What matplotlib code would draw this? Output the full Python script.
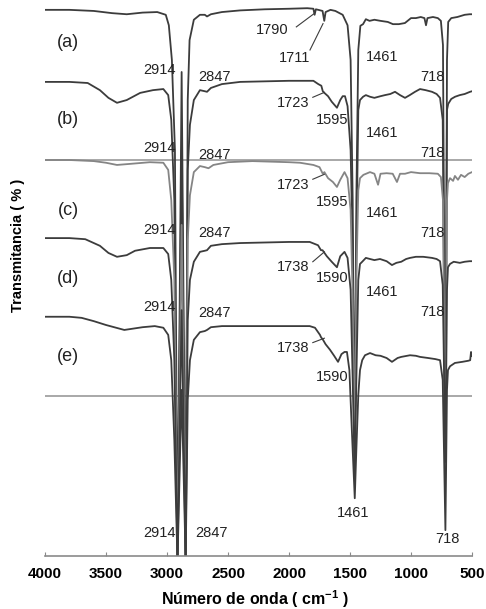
import numpy as np
import matplotlib.pyplot as plt

plt.rcParams['font.family'] = ['Liberation Sans', 'DejaVu Sans']
plt.rcParams['mathtext.fontset'] = 'custom'
plt.rcParams['mathtext.rm'] = 'Liberation Sans'
plt.rcParams['mathtext.bf'] = 'Liberation Sans:bold'

# FTIR spectra, stacked (transmittance with offsets, arbitrary %)
wn_a = [4000, 3800, 3600, 3450, 3330, 3200, 3080, 3010, 2985, 2960, 2935, 2914, 2880, 2847,
        2830, 2815, 2780, 2730, 2690, 2672, 2640, 2550, 2400, 2200, 2000, 1850, 1800, 1790,
        1780, 1760, 1725, 1711, 1700, 1660, 1620, 1560, 1520, 1495, 1478, 1461, 1448, 1432,
        1415, 1393, 1370, 1340, 1300, 1250, 1190, 1148, 1100, 1050, 1000, 960, 920, 890, 877,
        865, 820, 780, 755, 738, 718, 705, 695, 670, 620, 560, 520, 500]
t_a = [99.3, 99.3, 99.1, 98.7, 98.5, 98.8, 98.9, 98.4, 96.5, 90.2, 73.8, -1, 88.0, -1,
       82.9, 93.8, 97.5, 98.4, 98.4, 98.1, 98.5, 98.9, 99.2, 99.4, 99.5, 99.6, 99.5, 98.4,
       99.4, 99.3, 99.1, 97.3, 98.9, 99.3, 99.1, 98.4, 96.5, 90.2, 64.7, 15.6, 64.7, 92.0,
       96.4, 96.7, 97.6, 97.3, 97.5, 97.3, 97.1, 96.7, 96.7, 96.9, 97.8, 97.8, 98.0, 97.8, 96.5,
       97.8, 98.0, 97.8, 97.3, 92.9, 16.0, 90.2, 97.1, 97.8, 98.0, 98.4, 98.5, 98.5]

wn_b = [4000, 3800, 3650, 3550, 3480, 3410, 3330, 3220, 3115, 3030, 2990, 2965, 2940, 2914,
        2880, 2847, 2830, 2812, 2780, 2730, 2690, 2672, 2640, 2550, 2400, 2000, 1800, 1760,
        1735, 1723, 1710, 1680, 1650, 1607, 1580, 1560, 1541, 1520, 1495, 1478, 1461, 1448,
        1432, 1418, 1393, 1370, 1336, 1300, 1250, 1213, 1170, 1131, 1090, 1049, 1010, 967,
        926, 880, 828, 790, 762, 740, 718, 705, 695, 670, 639, 600, 560, 516, 500]
t_b = [86.2, 86.2, 86.0, 84.7, 83.3, 82.4, 82.9, 84.2, 84.7, 84.9, 83.8, 79.3, 64.7, -1,
       73.8, -1, 70.2, 78.4, 82.9, 84.7, 84.5, 84.4, 85.1, 85.8, 86.2, 86.4, 86.4, 85.8,
       85.5, 84.5, 84.2, 83.6, 82.6, 81.5, 82.9, 83.6, 83.6, 81.8, 73.8, 55.6, 16.5, 55.6,
       81.1, 82.9, 83.5, 83.8, 83.5, 83.3, 83.6, 83.8, 84.0, 84.4, 83.8, 83.3, 83.8, 84.4,
       84.9, 84.7, 84.4, 84.0, 83.3, 79.3, 16.5, 81.1, 82.2, 83.1, 83.5, 83.8, 84.0, 84.4, 84.5]

wn_c = [4000, 3800, 3600, 3500, 3410, 3300, 3140, 3030, 2990, 2965, 2940, 2914, 2880, 2847,
        2830, 2812, 2780, 2730, 2690, 2660, 2620, 2500, 2300, 2000, 1910, 1800, 1750, 1723,
        1710, 1680, 1640, 1607, 1580, 1545, 1520, 1495, 1478, 1461, 1448, 1432, 1418, 1390,
        1336, 1300, 1270, 1250, 1200, 1150, 1115, 1090, 1049, 1000, 926, 850, 780, 755, 738,
        718, 705, 697, 680, 655, 640, 615, 590, 560, 530, 500]
t_c = [72.0, 72.0, 71.8, 71.5, 71.1, 71.3, 71.6, 71.5, 70.2, 64.7, 50.2, -1, 60.2, -1,
       57.5, 65.6, 69.8, 70.9, 70.7, 70.5, 71.1, 71.6, 71.8, 71.6, 71.5, 71.1, 70.7, 69.5,
       69.8, 68.7, 68.0, 67.1, 68.4, 69.8, 68.7, 62.9, 46.5, 17.5, 50.2, 66.5, 68.7, 69.3,
       69.8, 69.5, 67.5, 69.5, 69.6, 69.5, 68.0, 69.5, 69.5, 69.8, 69.6, 69.6, 69.5, 68.9, 64.7,
       15.6, 64.7, 67.8, 68.7, 68.2, 69.1, 68.4, 69.3, 68.9, 69.5, 69.8]

wn_d = [4000, 3800, 3670, 3550, 3480, 3410, 3330, 3262, 3140, 3030, 2990, 2965, 2940, 2914,
        2880, 2847, 2830, 2812, 2780, 2730, 2690, 2672, 2640, 2550, 2400, 2000, 1830, 1762,
        1738, 1725, 1690, 1650, 1607, 1580, 1545, 1520, 1495, 1478, 1461, 1448, 1432, 1418,
        1400, 1370, 1336, 1300, 1254, 1200, 1156, 1120, 1080, 1040, 1008, 960, 900, 828, 790,
        762, 740, 718, 705, 697, 680, 650, 600, 560, 520, 500]
t_d = [57.8, 57.8, 57.6, 56.4, 55.1, 54.4, 54.7, 55.5, 56.0, 56.0, 54.9, 50.2, 35.6, -1,
       44.7, -1, 42.9, 50.2, 53.5, 55.3, 55.5, 55.6, 56.4, 56.7, 56.9, 57.1, 57.1, 56.5,
       55.6, 55.6, 54.5, 53.5, 52.5, 54.5, 55.3, 54.2, 48.4, 32.0, 14.7, 32.0, 50.2, 53.1,
       53.5, 54.2, 54.0, 53.8, 54.0, 53.6, 52.9, 53.3, 53.5, 54.0, 54.2, 54.4, 54.4, 54.2, 54.0,
       53.6, 49.3, 17.1, 48.4, 52.5, 53.1, 53.5, 53.3, 53.5, 53.6, 53.6]

wn_e = [4000, 3800, 3700, 3600, 3500, 3350, 3200, 3100, 3030, 2990, 2965, 2940, 2914, 2880,
        2847, 2830, 2812, 2780, 2730, 2690, 2672, 2640, 2550, 2000, 1830, 1787, 1746, 1738,
        1721, 1700, 1664, 1630, 1598, 1570, 1545, 1525, 1505, 1485, 1461, 1448, 1432, 1418,
        1400, 1377, 1336, 1290, 1250, 1200, 1156, 1110, 1080, 1008, 960, 926, 860, 800, 762,
        740, 718, 705, 697, 680, 640, 580, 530, 515, 508, 500]
t_e = [43.5, 43.5, 43.3, 42.7, 42.0, 41.1, 41.6, 41.8, 41.5, 40.2, 35.6, 21.1, -1, 30.2,
       -1, 28.4, 35.6, 39.3, 40.7, 40.9, 41.1, 41.6, 41.8, 41.8, 41.8, 41.5, 40.2, 39.8,
       39.3, 38.5, 37.5, 36.4, 35.3, 36.7, 37.1, 37.1, 33.8, 22.9, 10.5, 19.3, 29.3, 33.8,
       35.6, 36.5, 36.9, 36.5, 36.4, 36.0, 35.3, 36.0, 36.2, 36.5, 36.4, 36.2, 36.0, 35.8, 35.6,
       32.0, 4.7, 30.2, 33.8, 34.5, 35.1, 35.3, 35.5, 35.6, 37.1, 36.4]

baselines = [72.0, 29.1]
xticks = [4000, 3500, 3000, 2500, 2000, 1500, 1000, 500]

dark = '#3c3c3c'
fig = plt.figure(figsize=(4.86, 6.09), dpi=100)
ax = fig.add_axes([45 / 486, 53 / 609, 427 / 486, 555.5 / 609])

for b in baselines:
    ax.plot([4000, 500], [b, b], color='#9a9a9a', lw=1.2)

ax.plot(wn_a, t_a, color=dark, lw=1.3)
ax.plot(wn_b, t_b, color=dark, lw=1.3)
ax.plot(wn_c, t_c, color='#858585', lw=1.3)
ax.plot(wn_d, t_d, color=dark, lw=1.3)
ax.plot(wn_e, t_e, color=dark, lw=1.3)

ax.set_xlim(4000, 500)
ax.set_ylim(0, 101)

# sample letters
for lab, y in zip(['(a)', '(b)', '(c)', '(d)', '(e)'], [93.3, 79.3, 62.9, 50.5, 36.2]):
    ax.text(3811, y, lab, fontsize=13, ha='center', va='center', color='#222222')

# peak labels
fs = 10.5
tc = '#222222'
for y in [88.4, 74.2, 59.3, 45.3, 4.2]:
    ax.text(2925, y, '2914', fontsize=fs, ha='right', va='center', color=tc)
for y in [87.1, 72.9, 58.7, 44.2]:
    ax.text(2746, y, '2847', fontsize=fs, ha='left', va='center', color=tc)
ax.text(2770, 4.2, '2847', fontsize=fs, ha='left', va='center', color=tc)

for y in [90.7, 76.9, 62.4, 48.0]:
    ax.text(1238, y, '1461', fontsize=fs, ha='center', va='center', color=tc)
for y in [87.1, 73.3, 58.7, 44.4]:
    ax.text(828, y, '718', fontsize=fs, ha='center', va='center', color=tc)
ax.text(1475, 7.8, '1461', fontsize=fs, ha='center', va='center', color=tc)
ax.text(705, 3.1, '718', fontsize=fs, ha='center', va='center', color=tc)

ax.text(2139, 95.6, '1790', fontsize=fs, ha='center', va='center', color=tc)
ax.plot([1940, 1795], [96.2, 98.6], color=dark, lw=0.8)
ax.text(1951, 90.5, '1711', fontsize=fs, ha='center', va='center', color=tc)
ax.plot([1828, 1721], [92.0, 96.8], color=dark, lw=0.8)

for lab, y, y2 in [('1723', 82.4, 84.3), ('1723', 67.5, 69.4), ('1738', 52.5, 55.3), ('1738', 37.8, 39.6)]:
    ax.text(1967, y, lab, fontsize=fs, ha='center', va='center', color=tc)
    ax.plot([1805, 1710], [y + 1.0, y2], color=dark, lw=0.8)
for lab, y in [('1595', 79.3), ('1595', 64.4), ('1590', 50.5), ('1590', 32.5)]:
    ax.text(1647, y, lab, fontsize=fs, ha='center', va='center', color=tc)

for s in ['left', 'right', 'top']:
    ax.spines[s].set_visible(False)
ax.spines['bottom'].set_color('#8a8a8a')
ax.spines['bottom'].set_linewidth(1.2)
ax.set_yticks([])
ax.set_xticks(xticks)
ax.set_xticklabels([str(v) for v in xticks], fontsize=11, fontweight='bold')
ax.tick_params(axis='x', direction='in', length=3, color='#8a8a8a', pad=8)

fig.text(255 / 486, 1 - 605 / 609, r'Número de onda ( cm$^{\mathbf{-1}}$ )',
         fontsize=11.5, fontweight='bold', ha='center', va='baseline')
fig.text(18 / 486, 1 - 245 / 609, 'Transmitancia ( % )', fontsize=10.5,
         fontweight='bold', rotation=90, ha='center', va='center')

fig.savefig('out.png', dpi=100)
